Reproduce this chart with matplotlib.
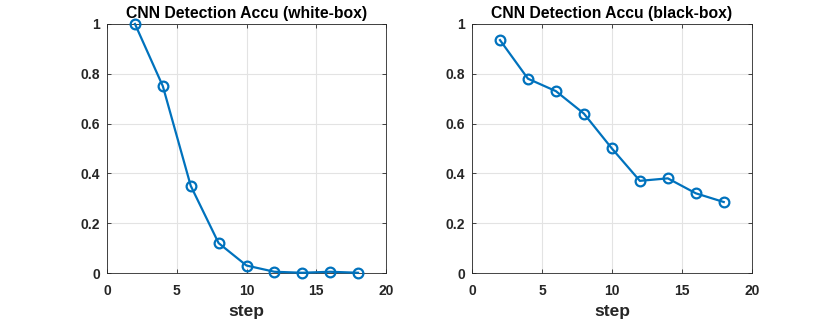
import matplotlib.pyplot as plt
import numpy as np

plt.rcParams['font.family'] = ['Liberation Sans', 'DejaVu Sans']
plt.rcParams['font.weight'] = 'bold'

steps = [2, 4, 6, 8, 10, 12, 14, 16, 18]
white_box = [1.0, 0.75, 0.35, 0.12, 0.03, 0.005, 0.001, 0.005, 0.001]
black_box = [0.935, 0.78, 0.73, 0.64, 0.5, 0.37, 0.38, 0.32, 0.285]
titles = ["CNN Detection Accu (white-box)", "CNN Detection Accu (black-box)"]
x_ticks = [0, 5, 10, 15, 20]
y_ticks = [0, 0.2, 0.4, 0.6, 0.8, 1.0]
y_labels = ["0", "0.2", "0.4", "0.6", "0.8", "1"]

fig = plt.figure(figsize=(8.3, 3.21), dpi=100)
axes = [fig.add_axes([0.129, 0.1495, 0.336, 0.776]),
        fig.add_axes([0.5687, 0.1495, 0.337, 0.776])]

for ax, vals, title in zip(axes, [white_box, black_box], titles):
    ax.plot(steps, vals, color='#0072BD', linewidth=1.6, marker='o',
            markersize=7, markerfacecolor='none', markeredgewidth=1.6,
            clip_on=False, zorder=3)
    ax.set_xlim(0, 20)
    ax.set_ylim(0, 1)
    ax.set_xticks(x_ticks)
    ax.set_yticks(y_ticks)
    ax.set_yticklabels(y_labels)
    ax.grid(True, color='#e3e3e3', linewidth=0.8)
    ax.set_axisbelow(True)
    ax.tick_params(direction='in', top=True, right=True, length=3,
                   labelsize=10, colors='#262626', width=0.6)
    ax.tick_params(axis='x', pad=8)
    ax.tick_params(axis='y', pad=5)
    for sp in ax.spines.values():
        sp.set_color('#262626')
        sp.set_linewidth(0.6)
    ax.set_title(title, fontsize=11.3, fontweight='bold', pad=4)
    ax.set_xlabel("step", fontsize=12.5, fontweight='bold', color='#262626', labelpad=4)

fig.savefig("out.png", dpi=100)
